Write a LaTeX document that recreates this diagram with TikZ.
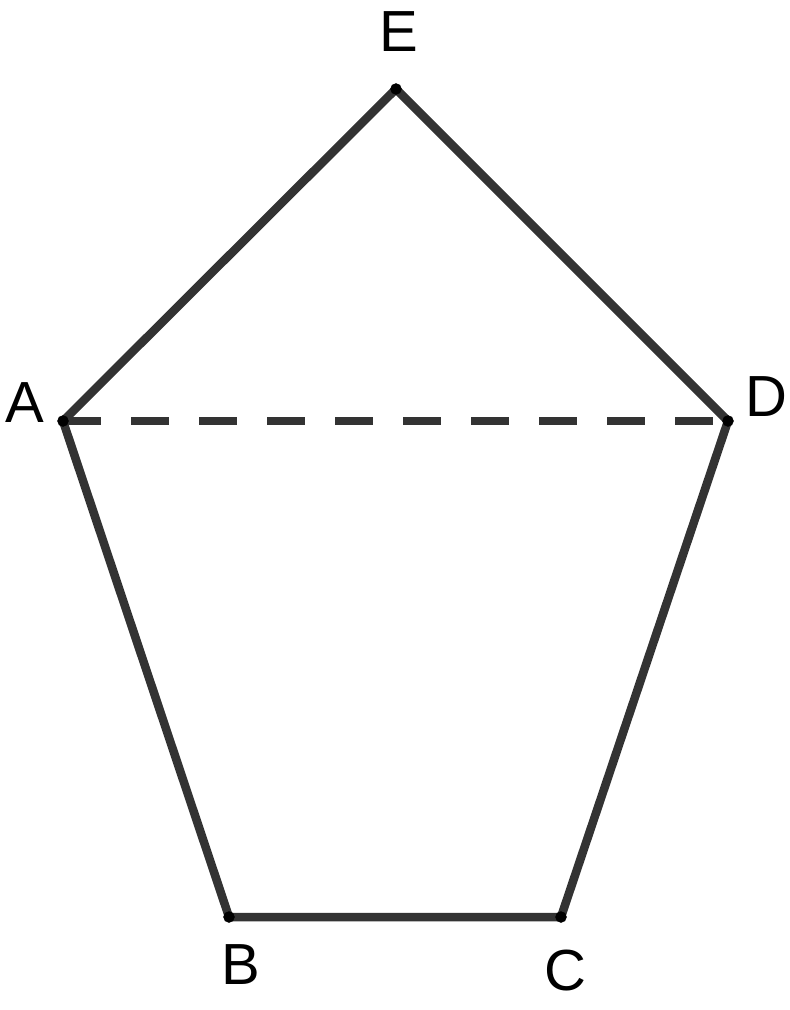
\documentclass[tikz,border=0pt]{standalone}
\usepackage{fontspec}
\setmainfont{Liberation Sans}
\begin{document}
\begin{tikzpicture}[x=1pt,y=-1pt,
	    side/.style={line width=8.5pt,color=black!80,line join=round},
	    lbl/.style={font=\fontsize{58}{60}\selectfont,inner sep=0pt}]
	    \useasboundingbox (0,0) rectangle (790,1010);
	    \coordinate (E) at (396,89);
	    \coordinate (A) at (63,421);
	    \coordinate (D) at (728,421);
	    \coordinate (B) at (229,917);
	    \coordinate (C) at (561,917);
	    \draw[side] (A)--(E)--(D)--(C)--(B)--cycle;
	    \draw[side,dash pattern=on 38pt off 30pt] (A)--(D);
	    \foreach \p in {A,B,C,D,E}
	        \filldraw[black] (\p) circle(5.5pt);
	    \node[lbl] (labE) at (399,32) {E};
	    \node[lbl] (labA) at (25,403) {A};
	    \node[lbl] (labD) at (766,397) {D};
	    \node[lbl] (labB) at (241,965) {B};
	    \node[lbl] (labC) at (565,971) {C};
	\end{tikzpicture}
\end{document}
